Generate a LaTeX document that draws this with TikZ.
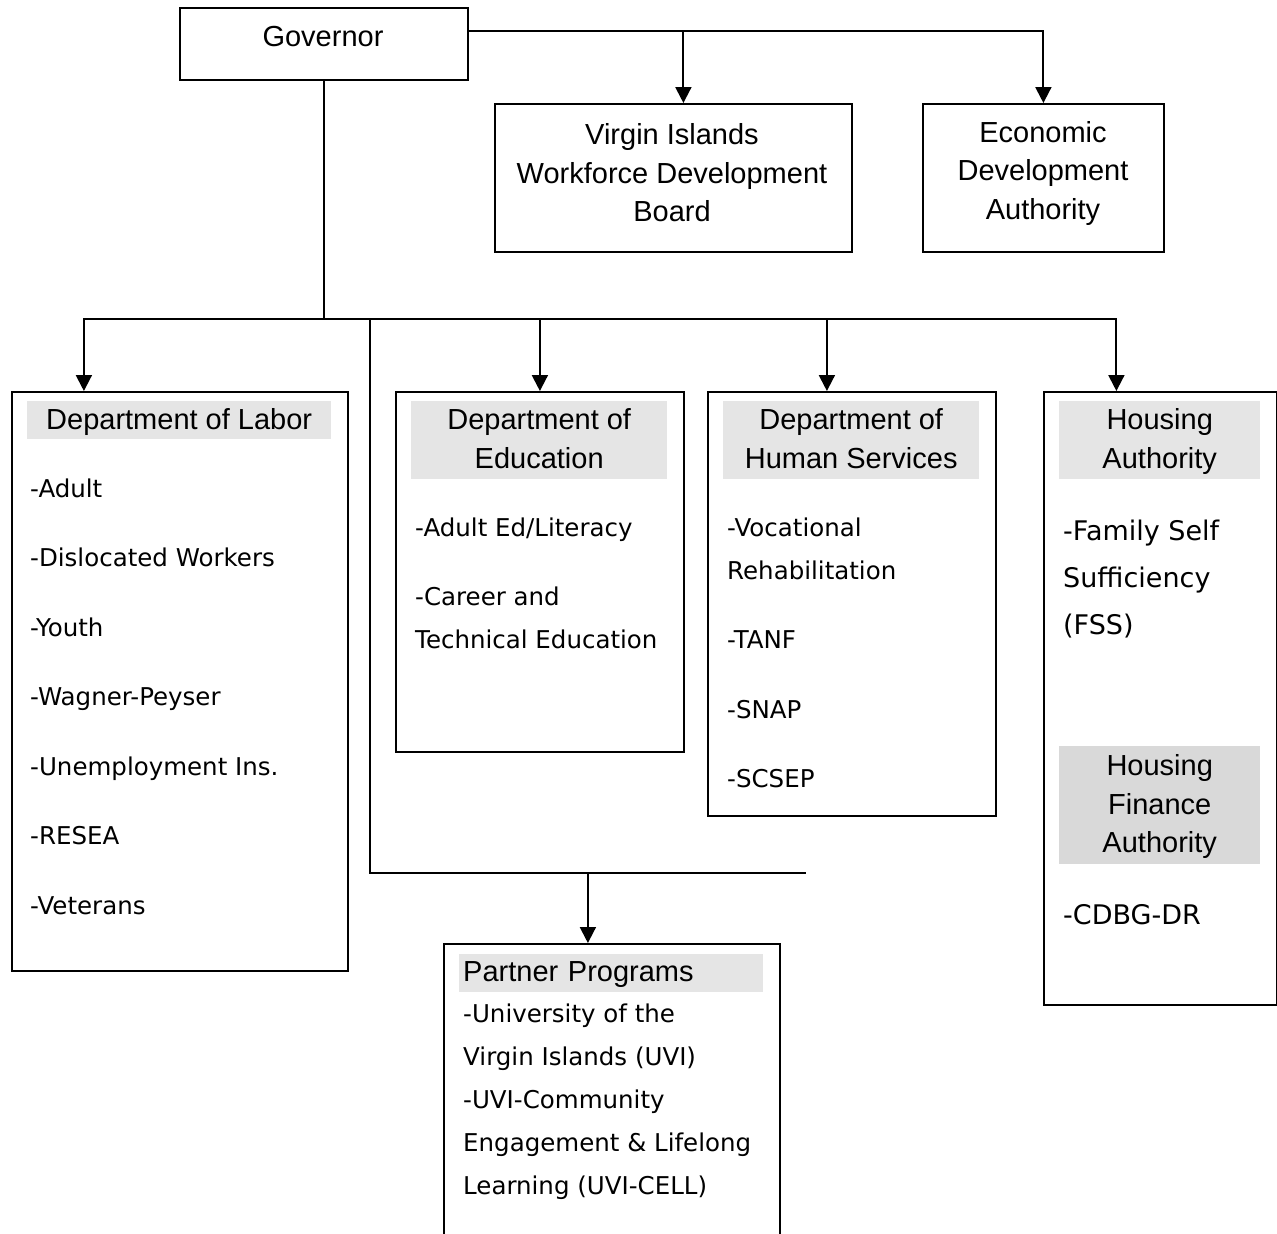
\documentclass[tikz,border=0pt]{standalone}
\usepackage{fontspec}
\setmainfont{Liberation Sans}
\newfontfamily\progfont{DejaVu Sans}
\usetikzlibrary{arrows.meta,positioning}

\tikzset{
	box/.style={draw, line width=1.8pt, anchor=north west, inner sep=0pt},
	band/.style={fill=black!10, anchor=north west, inner sep=4pt, align=center,
		font=\fontsize{29}{38.5}\selectfont, text depth=3pt},
	head/.style={font=\fontsize{29}{38.5}\selectfont, align=center, inner sep=0pt},
	prog/.style={font=\progfont\fontsize{24.5}{43}\selectfont, anchor=west, inner sep=0pt,
		text height=18pt, text depth=0pt},
	bigprog/.style={prog, font=\progfont\fontsize{27}{47}\selectfont, text height=20pt},
	link/.style={line width=2pt},
	feed/.style={link, -{Triangle[length=16pt,width=16pt]}},
}

\begin{document}
\begin{tikzpicture}[x=1pt,y=-1pt]
		%%%%% START %%%%%
		\useasboundingbox (0,0) rectangle (1277,1234);
		\clip (0,0) rectangle (1277,1234);
		
		% top row
		\node[box, minimum width=288pt, minimum height=72pt] (gov) at (179,7) {};
		\node[head] (govtxt) at (323,37) {Governor};
		
		\node[box, minimum width=357pt, minimum height=148pt] (board) at (494,103) {};
		\node[head] (boardtxt) at (672,173) {Virgin Islands\\Workforce Development\\Board};
		
		\node[box, minimum width=241pt, minimum height=148pt] (eda) at (922,103) {};
		\node[head] (edatxt) at (1043,173) {Economic\\Development\\Authority};
		
		\coordinate (govtap) at (gov.east |- 0,31);
		\draw[feed] (govtap) -| ([xshift=10pt]board.north);
		\draw[feed] (govtap) -| (eda.north);
		
		% departments
		\node[box, minimum width=336pt, minimum height=579pt] (labor) at (11,391) {};
		\node[band, minimum width=304pt, minimum height=38pt] (laborhd) at (27,401) {Department of Labor};
		\foreach \t [count=\i] in {-Adult, -Dislocated Workers, -Youth, -Wagner-Peyser,
			-Unemployment Ins., -RESEA, -Veterans}
			\node[prog] (labor-\i) at (30,{488+69.5*(\i-1)}) {\t};
		
		\node[box, minimum width=288pt, minimum height=360pt] (edu) at (395,391) {};
		\node[band, minimum width=256pt, minimum height=78pt] (eduhd) at (411,401) {Department of\\Education};
		\node[prog] (edu-1) at (415,527) {-Adult Ed/Literacy};
		\node[prog] (edu-2) at (415,596) {-Career and};
		\node[prog] (edu-3) at (415,639) {Technical Education};
		
		\node[box, minimum width=288pt, minimum height=424pt] (hs) at (707,391) {};
		\node[band, minimum width=256pt, minimum height=78pt] (hshd) at (723,401) {Department of\\Human Services};
		\node[prog] (hs-1) at (727,527) {-Vocational};
		\node[prog] (hs-2) at (727,570) {Rehabilitation};
		\node[prog] (hs-3) at (727,639) {-TANF};
		\node[prog] (hs-4) at (727,709) {-SNAP};
		\node[prog] (hs-5) at (727,778) {-SCSEP};
		
		\node[box, minimum width=233pt, minimum height=613pt] (ha) at (1043,391) {};
		\node[band, minimum width=201pt, minimum height=78pt] (hahd) at (1059,401) {Housing\\Authority};
		\node[bigprog] (ha-1) at (1063,530) {-Family Self};
		\node[bigprog] (ha-2) at (1063,577) {Sufficiency};
		\node[bigprog] (ha-3) at (1063,624) {(FSS)};
		\node[band, fill=black!15, minimum width=201pt, minimum height=118pt] (hfahd) at (1059,746) {Housing\\Finance\\Authority};
		\node[bigprog] (hfa-1) at (1063,914) {-CDBG-DR};
		
		\coordinate (hub) at (gov.south |- 0,319);
		\draw[link] (gov.south) -- (hub);
		\draw[feed] (hub) -| ([xshift=-96pt]labor.north);
		\draw[feed] (hub) -| (edu.north);
		\draw[feed] (hub) -| ([xshift=-25pt]hs.north);
		\draw[feed] (hub) -| ([xshift=-44pt]ha.north);
		
		% partners
		\node[box, minimum width=336pt, minimum height=330pt] (partner) at (443,943) {};
		\node[band, minimum width=304pt, minimum height=38pt, text width=296pt, align=left] (partnerhd) at (459,954) {Partner Programs};
		\foreach \t [count=\i] in {-University of the, Virgin Islands (UVI), -UVI-Community,
			Engagement \& Lifelong, Learning (UVI-CELL)}
			\node[prog] (partner-\i) at (463,{1013+43*(\i-1)}) {\t};
		
		\coordinate (split) at (370,319);
		\coordinate (ppleft) at (370,873);
		\coordinate (ppright) at (806,873);
		\draw[link] (split) -- (ppleft) -- ([xshift=-24pt]ppleft -| partner.north);
		\draw[line width=1.3pt] ([xshift=-24pt]ppleft -| partner.north) -- (ppright);
		\draw[feed] ([xshift=-24pt]ppleft -| partner.north) -- ([xshift=-24pt]partner.north);
		
		%%%%% END %%%%%
\end{tikzpicture}
\end{document}
